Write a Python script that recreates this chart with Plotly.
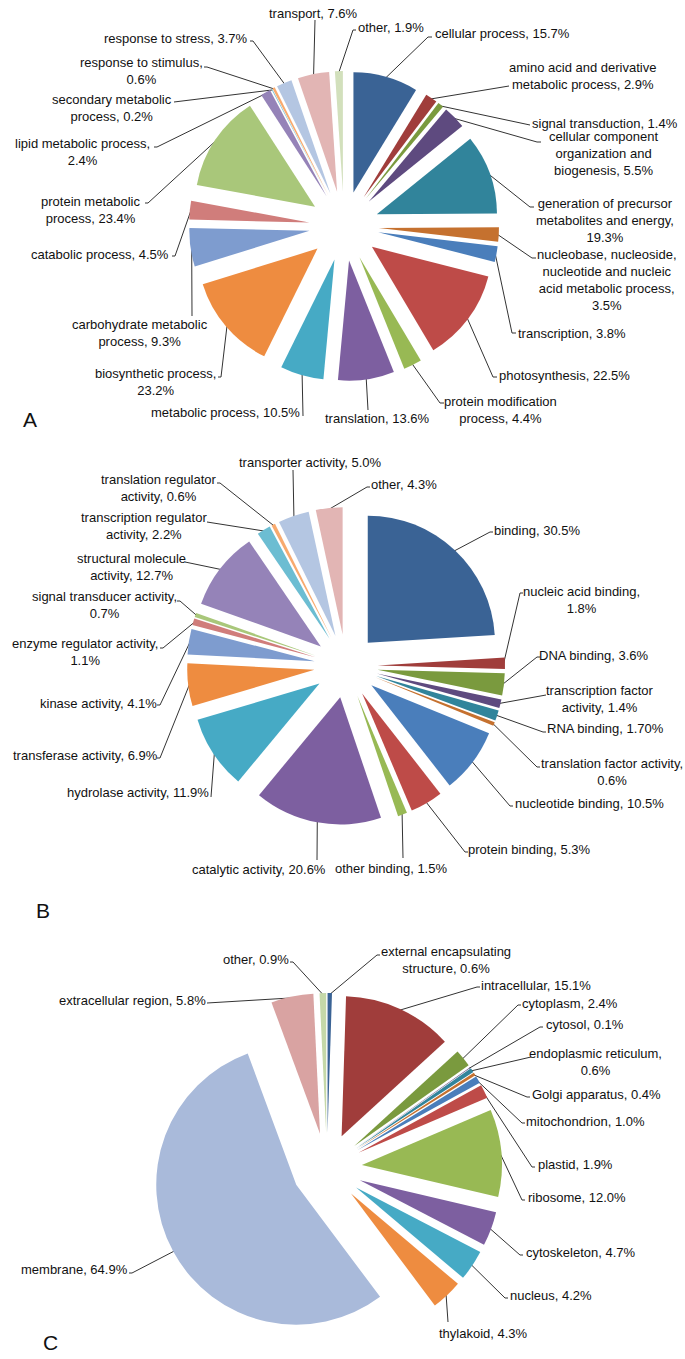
import math
import plotly.graph_objects as go

W, H = 685, 1359

# ---------------- data ----------------
cats_A = ["cellular process", "amino acid and derivative metabolic process", "signal transduction",
          "cellular component organization and biogenesis", "generation of precursor metabolites and energy",
          "nucleobase, nucleoside, nucleotide and nucleic acid metabolic process", "transcription",
          "photosynthesis", "protein modification process", "translation", "metabolic process",
          "biosynthetic process", "carbohydrate metabolic process", "catabolic process",
          "protein metabolic process", "lipid metabolic process", "secondary metabolic process",
          "response to stimulus", "response to stress", "transport", "other"]
vals_A = [15.7, 2.9, 1.4, 5.5, 19.3, 3.5, 3.8, 22.5, 4.4, 13.6, 10.5, 23.2, 9.3, 4.5, 23.4, 2.4, 0.2, 0.6, 3.7, 7.6, 1.9]
text_A = ["cellular process, 15.7%", "amino acid and derivative<br>metabolic process, 2.9%",
          "signal transduction, 1.4%", "cellular component<br>organization and<br>biogenesis, 5.5%",
          "generation of precursor<br>metabolites and energy,<br>19.3%",
          "nucleobase, nucleoside,<br>nucleotide and nucleic<br>acid metabolic process,<br>3.5%",
          "transcription, 3.8%", "photosynthesis, 22.5%", "protein modification<br>process, 4.4%",
          "translation, 13.6%", "metabolic process, 10.5%", "biosynthetic process,<br>23.2%",
          "carbohydrate metabolic<br>process, 9.3%", "catabolic process, 4.5%",
          "protein metabolic<br>process, 23.4%", "lipid metabolic process,<br>2.4%",
          "secondary metabolic<br>process, 0.2%", "response to stimulus,<br>0.6%",
          "response to stress, 3.7%", "transport, 7.6%", "other, 1.9%"]

cats_B = ["binding", "nucleic acid binding", "DNA binding", "transcription factor activity", "RNA binding",
          "translation factor activity", "nucleotide binding", "protein binding", "other binding",
          "catalytic activity", "hydrolase activity", "transferase activity", "kinase activity",
          "enzyme regulator activity", "signal transducer activity", "structural molecule activity",
          "transcription regulator activity", "translation regulator activity", "transporter activity", "other"]
vals_B = [30.5, 1.8, 3.6, 1.4, 1.70, 0.6, 10.5, 5.3, 1.5, 20.6, 11.9, 6.9, 4.1, 1.1, 0.7, 12.7, 2.2, 0.6, 5.0, 4.3]
text_B = ["binding, 30.5%", "nucleic acid binding,<br>1.8%", "DNA binding, 3.6%",
          "transcription factor<br>activity, 1.4%", "RNA binding, 1.70%",
          "translation factor activity,<br>0.6%", "nucleotide binding, 10.5%", "protein binding, 5.3%",
          "other binding, 1.5%", "catalytic activity, 20.6%", "hydrolase activity, 11.9%",
          "transferase activity, 6.9%", "kinase activity, 4.1%", "enzyme regulator activity,<br>1.1%",
          "signal transducer activity,<br>0.7%", "structural molecule<br>activity, 12.7%",
          "transcription regulator<br>activity, 2.2%", "translation regulator<br>activity, 0.6%",
          "transporter activity, 5.0%", "other, 4.3%"]

cats_C = ["external encapsulating structure", "intracellular", "cytoplasm", "cytosol", "endoplasmic reticulum",
          "Golgi apparatus", "mitochondrion", "plastid", "ribosome", "cytoskeleton", "nucleus", "thylakoid",
          "membrane", "extracellular region", "other"]
vals_C = [0.6, 15.1, 2.4, 0.1, 0.6, 0.4, 1.0, 1.9, 12.0, 4.7, 4.2, 4.3, 64.9, 5.8, 0.9]
text_C = ["external encapsulating<br>structure, 0.6%", "intracellular, 15.1%", "cytoplasm, 2.4%",
          "cytosol, 0.1%", "endoplasmic reticulum,<br>0.6%", "Golgi apparatus, 0.4%", "mitochondrion, 1.0%",
          "plastid, 1.9%", "ribosome, 12.0%", "cytoskeleton, 4.7%", "nucleus, 4.2%", "thylakoid, 4.3%",
          "membrane, 64.9%", "extracellular region, 5.8%", "other, 0.9%"]

panel_letters = ["A", "B", "C"]

# ---------------- styles ----------------
palette = ["#3A6395", "#A03D3B", "#7A9A3E", "#5E4A7F", "#31849B", "#C5712F",
           "#4A7EBB", "#BE4B48", "#98B954", "#7D5FA0", "#46AAC5", "#EE8C40",
           "#7E9CCF", "#D07D7B", "#A9C77A", "#9583B8", "#6CBDD2", "#F8AA6E",
           "#B4C6E2", "#E2B5B4", "#D2E0BC"]
colors_A = palette[:21]
colors_B = palette[:20]
colors_C = palette[:12] + ["#A9BADA", "#D9A3A2", "#C5D8A8"]

# pie geometry (pixels): centre x, centre y, outer extent, pull fraction
GEO_A = (344, 226, 155, 0.29)
GEO_B = (346, 666, 159, 0.25)
GEO_C = (327, 1168, 175, 0.25)

# label layout: text centre (x, y), leader end (x, y), hook dx
LAY_A = [(500, 33, 428, 37, 4), (580, 76, 505, 86, 4), (603, 123, 527, 125, 3), (602, 153, 537, 142, 4),
         (603, 220, 530, 207, 4), (605, 280, 532, 258, 4), (570, 333, 512, 333, 4), (562, 375, 493, 377, 4),
         (498, 410, 440, 403, 4), (377, 418, 368, 410, 0), (225, 412, 303, 416, 0), (157, 382, 221, 377, -3),
         (140, 333, 192, 316, 0), (102, 254, 175, 256, -3), (92, 210, 148, 203, -3), (84, 152, 157, 147, -3),
         (114, 108, 177, 102, -3), (143, 71, 207, 67, -3), (178, 38, 253, 41, -3), (313, 13, 315, 20, 0),
         (389, 27, 353, 30, 3)]
LAY_B = [(535, 530, 490, 532, 3), (579, 600, 520, 593, 3), (592, 655, 537, 657, 3), (598, 699, 543, 695, 3),
         (603, 728, 543, 732, 3), (610, 772, 537, 767, 3), (587, 803, 510, 806, 3), (527, 849, 465, 852, 3),
         (391, 868, 403, 858, 0), (259, 869, 317, 860, 0), (138, 792, 211, 797, 0), (87, 755, 160, 758, -3),
         (100, 703, 160, 705, -3), (87, 652, 163, 648, -3), (106, 605, 180, 601, -3), (133, 567, 188, 562, -3),
         (146, 526, 210, 522, -3), (161, 488, 220, 483, -3), (310, 462, 293, 470, 0), (402, 484, 367, 487, 3)]
LAY_C = [(444, 960, 377, 955, 3), (534, 985, 477, 987, 3), (568, 1003, 518, 1005, 3), (583, 1024, 540, 1027, 3),
         (593, 1062, 528, 1057, 3), (594, 1094, 527, 1097, 3), (583, 1121, 522, 1123, 3),
         (573, 1164, 532, 1167, 3), (575, 1197, 522, 1200, 3), (579, 1252, 520, 1255, 3),
         (549, 1295, 505, 1298, 3), (483, 1333, 448, 1322, 0), (76, 1269, 132, 1273, -3),
         (134, 1000, 210, 1003, -3), (258, 959, 293, 962, -3)]
LETTER_POS = [(30, 419), (43, 910), (50, 1342)]
TEXT_GAP = 2  # extra clearance between hook and text

FONT = "Liberation Sans, Arial, sans-serif"

fig = go.Figure()
annotations = []
lx, ly = [], []


def add_pie(cats, vals, texts, colors, geo, lay):
    cx, cy, outer, pull = geo
    fig.add_trace(go.Pie(
        labels=cats, values=vals, sort=False, direction="clockwise", rotation=0,
        pull=pull, textinfo="none", hoverinfo="label+value", showlegend=False,
        marker=dict(colors=colors, line=dict(width=0)),
        domain=dict(x=[(cx - outer) / W, (cx + outer) / W],
                    y=[1 - (cy + outer) / H, 1 - (cy - outer) / H])))
    total = sum(vals)
    r = outer / (1 + pull)
    d = pull * r
    cum = 0.0
    for v, t, (tx, ty, hx, hy, hdx) in zip(vals, texts, lay):
        th = math.radians(360.0 * (cum + v / 2) / total)
        cum += v
        rr = d + r * 0.99
        ax = cx + rr * math.sin(th)
        ay = cy - rr * math.cos(th)
        lx.extend([ax, hx, hx + hdx, None])
        ly.extend([ay, hy, hy, None])
        shift = TEXT_GAP if hdx > 0 else (-TEXT_GAP if hdx < 0 else 0)
        annotations.append(dict(x=tx + shift, y=ty, xref="x", yref="y", text=t, showarrow=False,
                                xanchor="center", yanchor="middle", align="center",
                                font=dict(family=FONT, size=13, color="#111111")))


add_pie(cats_A, vals_A, text_A, colors_A, GEO_A, LAY_A)
add_pie(cats_B, vals_B, text_B, colors_B, GEO_B, LAY_B)
add_pie(cats_C, vals_C, text_C, colors_C, GEO_C, LAY_C)

fig.add_trace(go.Scatter(x=lx, y=ly, mode="lines", line=dict(color="#333333", width=1),
                         hoverinfo="skip", showlegend=False))

for letter, (px, py) in zip(panel_letters, LETTER_POS):
    annotations.append(dict(x=px, y=py, xref="x", yref="y", text=letter, showarrow=False,
                            xanchor="center", yanchor="middle",
                            font=dict(family=FONT, size=21, color="#111111")))

fig.update_layout(
    width=W, height=H, margin=dict(l=0, r=0, t=0, b=0),
    paper_bgcolor="white", plot_bgcolor="rgba(0,0,0,0)",
    xaxis=dict(range=[0, W], visible=False, fixedrange=True, domain=[0, 1]),
    yaxis=dict(range=[H, 0], visible=False, fixedrange=True, domain=[0, 1]),
    annotations=annotations, showlegend=False)

fig.write_html("out.html", config={"displayModeBar": False},
               post_script="document.body.style.margin='0';document.body.style.overflow='hidden';")
